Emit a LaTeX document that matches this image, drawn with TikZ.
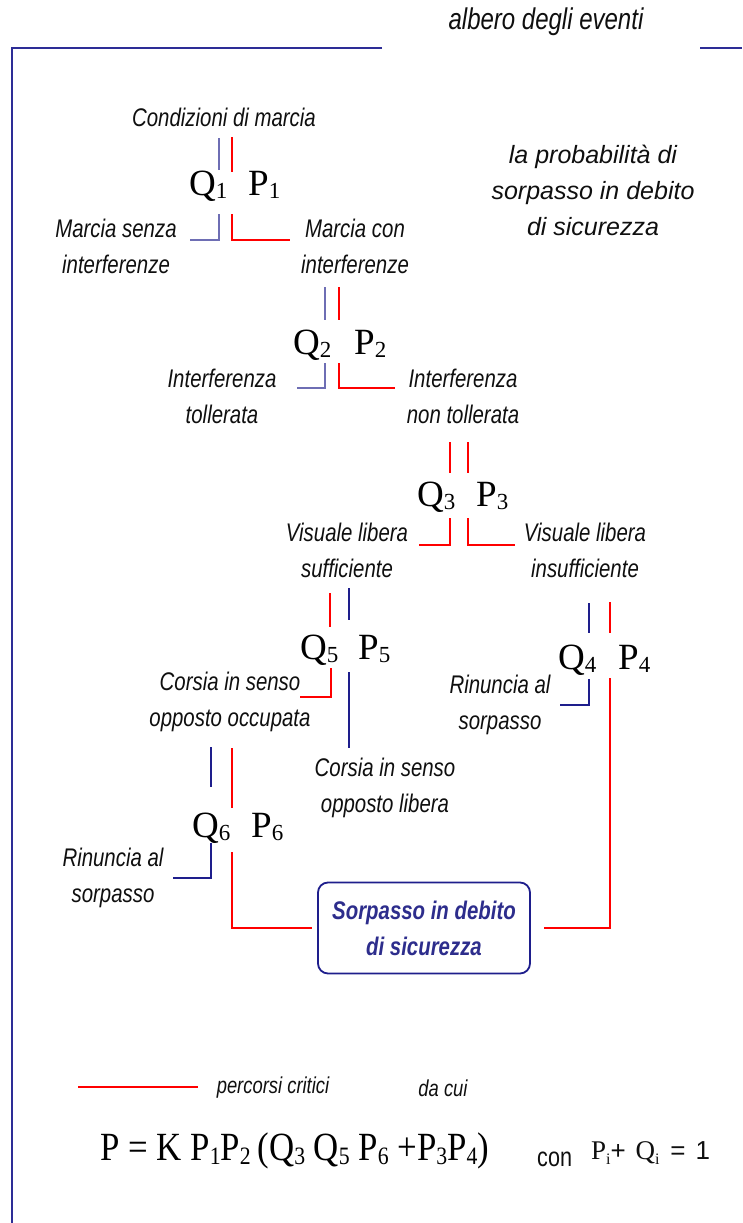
\documentclass[tikz,border=0pt]{standalone}
\usepackage{fontspec}
\setmainfont{Liberation Serif}
\newfontfamily\nar[FakeStretch=0.8]{Liberation Sans}
\newfontfamily\regsans{Liberation Sans}
\newfontfamily\cser[FakeStretch=0.87]{Liberation Serif}
\definecolor{lblue}{RGB}{110,110,180}
\definecolor{dblue}{RGB}{30,30,140}
\definecolor{frameblue}{RGB}{45,45,150}
\definecolor{boxtext}{RGB}{45,45,140}
\definecolor{txt}{RGB}{15,15,15}
\newcommand\sbs[1]{\raisebox{-3pt}{\fontsize{23}{23}\selectfont #1}}
\newcommand\sbf[1]{\raisebox{-4pt}{\fontsize{25}{25}\selectfont #1}}
\newcommand\sbi[1]{\raisebox{-5pt}{\fontsize{16}{16}\selectfont #1}}
\begin{document}
\begin{tikzpicture}[x=1pt,y=-1pt,
  lbl/.style={font=\nar\itshape\fontsize{25.5}{36}\selectfont, align=center, inner sep=0pt, text=txt},
  qp/.style={font=\fontsize{37}{37}\selectfont, anchor=base west, inner sep=0pt},
  bl/.style={draw=lblue, line width=1.8pt},
  dbl/.style={draw=dblue, line width=1.5pt},
  rd/.style={draw=red, line width=2.5pt},
  goalbox/.style={draw=dblue, line width=1.8pt, rounded corners=10pt, minimum width=212pt, minimum height=91pt, align=center, text=boxtext, font=\nar\bfseries\itshape\fontsize{25.5}{36}\selectfont}]
\useasboundingbox (0,0) rectangle (742,1223);
% frame
\draw[draw=frameblue, line width=2pt] (382,48) -- (12,48) -- (12,1223);
\draw[draw=frameblue, line width=2pt] (700,48) -- (742,48);
\node[font=\nar\itshape\fontsize{30}{30}\selectfont, text=txt, inner sep=0pt] (title) at (546,22) {albero degli eventi};
\node[font=\regsans\itshape\fontsize{25}{36}\selectfont, align=center, inner sep=0pt, text=txt] (prob) at (593,190) {la probabilità di\\sorpasso in debito\\di sicurezza};

% level 1
\node[lbl] (root) at (224,117) {Condizioni di marcia};
\node[qp] (q1) at (189,195) {Q\sbs{1}};
\node[qp] (p1) at (248,195) {P\sbs{1}};
\draw[bl] (219,138) -- (219,170);
\draw[rd] (232,137) -- (232,172);
\draw[bl] (219,214) |- (190,240);
\draw[rd] (232,214) |- (290,240);
\node[lbl] (l1a) at (116,246) {Marcia senza\\interferenze};
\node[lbl] (l1b) at (355,246) {Marcia con\\interferenze};

% level 2
\node[qp] (q2) at (293,354) {Q\sbs{2}};
\node[qp] (p2) at (354,354) {P\sbs{2}};
\draw[bl] (325,287) -- (325,320);
\draw[rd] (339,287) -- (339,320);
\draw[bl] (325,363) |- (297,388);
\draw[rd] (339,363) |- (395,388);
\node[lbl] (l2a) at (222,396) {Interferenza\\tollerata};
\node[lbl] (l2b) at (463,396) {Interferenza\\non tollerata};

% level 3
\node[qp] (q3) at (417,506) {Q\sbs{3}};
\node[qp] (p3) at (476,506) {P\sbs{3}};
\draw[rd] (450,442) -- (450,473);
\draw[rd] (468,442) -- (468,473);
\draw[rd] (450,518) |- (419,545);
\draw[rd] (468,518) |- (515,545);
\node[lbl] (l3a) at (347,550) {Visuale libera\\sufficiente};
\node[lbl] (l3b) at (585,550) {Visuale libera\\insufficiente};

% level 5
\node[qp] (q5) at (300,659) {Q\sbs{5}};
\node[qp] (p5) at (358,659) {P\sbs{5}};
\draw[rd] (330,593) -- (330,627);
\draw[dbl] (349,588) -- (349,620);
\draw[rd] (331,668) |- (300,697);
\draw[dbl] (349,672) -- (349,748);
\node[lbl] (l5a) at (230,702) {Corsia in senso\\opposto occupata};
\node[lbl] (l5b) at (385,788) {Corsia in senso\\opposto libera};

% level 4
\node[qp] (q4) at (558,669) {Q\sbs{4}};
\node[qp] (p4) at (618,669) {P\sbs{4}};
\draw[dbl] (589,603) -- (589,633);
\draw[rd] (610,602) -- (610,633);
\draw[dbl] (589,679) |- (560,705);
\node[lbl] (l4a) at (500,705) {Rinuncia al\\sorpasso};

% level 6
\node[qp] (q6) at (192,837) {Q\sbs{6}};
\node[qp] (p6) at (251,837) {P\sbs{6}};
\draw[dbl] (211,747) -- (211,787);
\draw[rd] (232,748) -- (232,808);
\draw[dbl] (211,843) |- (173,878);
\node[lbl] (l6a) at (113,878) {Rinuncia al\\sorpasso};

% goal
\node[goalbox] (goal) at (424,928) {Sorpasso in debito\\di sicurezza};
\coordinate (c6) at (232,852);
\coordinate (c4) at (610,678);
\draw[rd] (c6) |- ([xshift=-5pt]goal.west);
\draw[rd] (c4) |- ([xshift=13pt]goal.east);

% legend
\coordinate (lg1) at (78,1087);
\coordinate (lg2) at (198,1087);
\draw[rd] (lg1) -- (lg2);
\node[font=\nar\itshape\fontsize{23}{23}\selectfont, text=txt, inner sep=0pt] (crit) at (273,1088) {percorsi critici};
\node[font=\nar\itshape\fontsize{23}{23}\selectfont, text=txt, inner sep=0pt] (dacui) at (443,1088) {da cui};

% formula
\node[font=\cser\fontsize{40}{40}\selectfont, anchor=base west, inner sep=0pt] (form) at (100,1160) {P = K P\sbf{1}P\sbf{2}\,(Q\sbf{3} Q\sbf{5} P\sbf{6} +P\sbf{3}P\sbf{4})};
\node[font=\nar\fontsize{27}{27}\selectfont, anchor=base west, inner sep=0pt, text=txt] (con) at (537,1166) {con};
\node[font=\fontsize{27}{27}\selectfont, anchor=base west, inner sep=0pt, text=txt] (eq) at (591,1159) {P\sbi{i}{\regsans\fontsize{26}{26}\selectfont+}\hspace{3pt} Q\sbi{i}\hspace{4pt} {\regsans\fontsize{26}{26}\selectfont=\hspace{3pt} 1}};
\end{tikzpicture}
\end{document}
